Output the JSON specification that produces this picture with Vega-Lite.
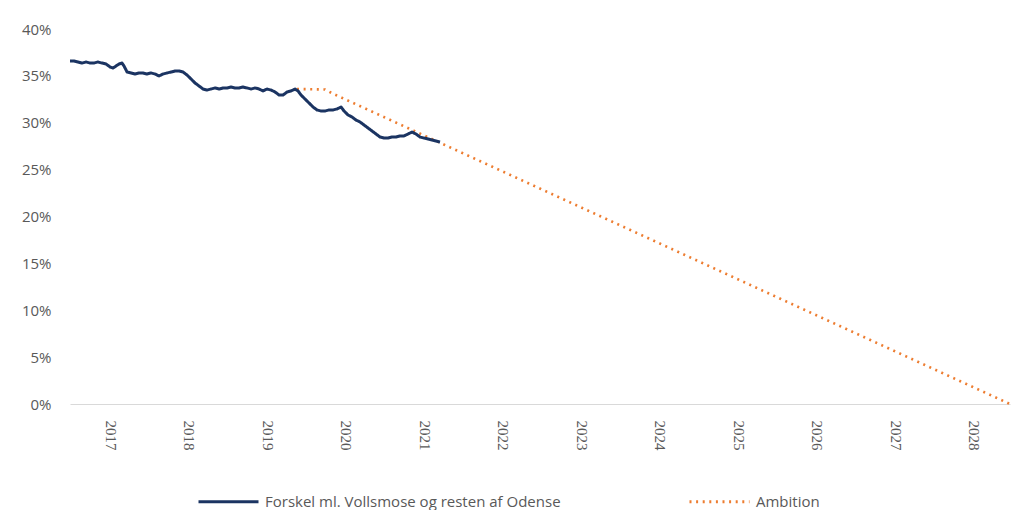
{
  "$schema": "https://vega.github.io/schema/vega-lite/v6.json",
  "width": 940,
  "height": 375,
  "autosize": {"type": "none"},
  "padding": {"left": 70, "top": 29, "right": 2, "bottom": 106},
  "background": "white",
  "config": {"view": {"stroke": null}, "font": "Open Sans"},
  "datasets": {
    "blue": [
      {"aar": 2016.490, "andel": 0.3659}, {"aar": 2016.541, "andel": 0.3659}, {"aar": 2016.592, "andel": 0.3648},
      {"aar": 2016.643, "andel": 0.3637}, {"aar": 2016.694, "andel": 0.3648}, {"aar": 2016.745, "andel": 0.3637},
      {"aar": 2016.796, "andel": 0.3637}, {"aar": 2016.847, "andel": 0.3648}, {"aar": 2016.898, "andel": 0.3637},
      {"aar": 2016.949, "andel": 0.3627}, {"aar": 2017.000, "andel": 0.3595}, {"aar": 2017.038, "andel": 0.3584},
      {"aar": 2017.076, "andel": 0.3605}, {"aar": 2017.115, "andel": 0.3627}, {"aar": 2017.153, "andel": 0.3637},
      {"aar": 2017.178, "andel": 0.3605}, {"aar": 2017.217, "andel": 0.3541}, {"aar": 2017.268, "andel": 0.3531},
      {"aar": 2017.318, "andel": 0.3520}, {"aar": 2017.369, "andel": 0.3531}, {"aar": 2017.420, "andel": 0.3531},
      {"aar": 2017.471, "andel": 0.3520}, {"aar": 2017.522, "andel": 0.3531}, {"aar": 2017.573, "andel": 0.3520},
      {"aar": 2017.624, "andel": 0.3499}, {"aar": 2017.675, "andel": 0.3520}, {"aar": 2017.726, "andel": 0.3531},
      {"aar": 2017.777, "andel": 0.3541}, {"aar": 2017.828, "andel": 0.3552}, {"aar": 2017.879, "andel": 0.3552},
      {"aar": 2017.930, "andel": 0.3541}, {"aar": 2017.981, "andel": 0.3509}, {"aar": 2018.032, "andel": 0.3467},
      {"aar": 2018.083, "andel": 0.3424}, {"aar": 2018.134, "andel": 0.3392}, {"aar": 2018.185, "andel": 0.3360},
      {"aar": 2018.236, "andel": 0.3349}, {"aar": 2018.287, "andel": 0.3360}, {"aar": 2018.338, "andel": 0.3371},
      {"aar": 2018.389, "andel": 0.3360}, {"aar": 2018.439, "andel": 0.3371}, {"aar": 2018.490, "andel": 0.3371},
      {"aar": 2018.541, "andel": 0.3381}, {"aar": 2018.592, "andel": 0.3371}, {"aar": 2018.643, "andel": 0.3371},
      {"aar": 2018.694, "andel": 0.3381}, {"aar": 2018.745, "andel": 0.3371}, {"aar": 2018.796, "andel": 0.3360},
      {"aar": 2018.847, "andel": 0.3371}, {"aar": 2018.898, "andel": 0.3360}, {"aar": 2018.949, "andel": 0.3339},
      {"aar": 2019.000, "andel": 0.3360}, {"aar": 2019.051, "andel": 0.3349}, {"aar": 2019.102, "andel": 0.3328},
      {"aar": 2019.153, "andel": 0.3296}, {"aar": 2019.204, "andel": 0.3296}, {"aar": 2019.255, "andel": 0.3328},
      {"aar": 2019.306, "andel": 0.3339}, {"aar": 2019.357, "andel": 0.3360}, {"aar": 2019.395, "andel": 0.3339},
      {"aar": 2019.433, "andel": 0.3296}, {"aar": 2019.484, "andel": 0.3253}, {"aar": 2019.535, "andel": 0.3211},
      {"aar": 2019.586, "andel": 0.3168}, {"aar": 2019.637, "andel": 0.3136}, {"aar": 2019.688, "andel": 0.3125},
      {"aar": 2019.739, "andel": 0.3125}, {"aar": 2019.790, "andel": 0.3136}, {"aar": 2019.841, "andel": 0.3136},
      {"aar": 2019.892, "andel": 0.3147}, {"aar": 2019.943, "andel": 0.3168}, {"aar": 2019.981, "andel": 0.3125},
      {"aar": 2020.032, "andel": 0.3083}, {"aar": 2020.083, "andel": 0.3061}, {"aar": 2020.134, "andel": 0.3029},
      {"aar": 2020.185, "andel": 0.3008}, {"aar": 2020.236, "andel": 0.2976}, {"aar": 2020.287, "andel": 0.2944},
      {"aar": 2020.338, "andel": 0.2912}, {"aar": 2020.389, "andel": 0.2880}, {"aar": 2020.439, "andel": 0.2848},
      {"aar": 2020.490, "andel": 0.2837}, {"aar": 2020.541, "andel": 0.2837}, {"aar": 2020.592, "andel": 0.2848},
      {"aar": 2020.643, "andel": 0.2848}, {"aar": 2020.694, "andel": 0.2859}, {"aar": 2020.745, "andel": 0.2859},
      {"aar": 2020.796, "andel": 0.2880}, {"aar": 2020.847, "andel": 0.2901}, {"aar": 2020.898, "andel": 0.2880},
      {"aar": 2020.949, "andel": 0.2848}, {"aar": 2021.000, "andel": 0.2837}, {"aar": 2021.051, "andel": 0.2827},
      {"aar": 2021.102, "andel": 0.2816}, {"aar": 2021.153, "andel": 0.2805}, {"aar": 2021.204, "andel": 0.2795}
    ],
    "orange": [
      {"aar": 2019.382, "andel": 0.3360}, {"aar": 2019.739, "andel": 0.3355}, {"aar": 2019.840, "andel": 0.3310},
      {"aar": 2028.465, "andel": 0.0}
    ]
  },
  "layer": [
    {
      "data": {"name": "orange"},
      "transform": [{"calculate": "'Ambition'", "as": "serie"}],
      "mark": {"type": "line", "strokeWidth": 2.6, "strokeCap": "butt", "clip": false},
      "encoding": {
        "x": {"field": "aar", "type": "quantitative"},
        "y": {"field": "andel", "type": "quantitative"},
        "color": {"field": "serie", "type": "nominal"},
        "strokeDash": {"field": "serie", "type": "nominal"}
      }
    },
    {
      "data": {"name": "blue"},
      "transform": [{"calculate": "'Forskel ml. Vollsmose og resten af Odense'", "as": "serie"}],
      "mark": {"type": "line", "strokeWidth": 3, "strokeJoin": "round", "clip": false},
      "encoding": {
        "x": {"field": "aar", "type": "quantitative"},
        "y": {"field": "andel", "type": "quantitative"},
        "color": {"field": "serie", "type": "nominal"},
        "strokeDash": {"field": "serie", "type": "nominal"}
      }
    }
  ],
  "resolve": {"scale": {"color": "shared", "strokeDash": "shared"}},
  "encoding": {
    "x": {
      "field": "aar", "type": "quantitative",
      "scale": {"domain": [2016.49, 2028.465], "nice": false, "zero": false},
      "axis": {
        "title": null, "values": [2017, 2018, 2019, 2020, 2021, 2022, 2023, 2024, 2025, 2026, 2027, 2028],
        "format": "d", "labelAngle": 90, "labelFont": "Liberation Serif", "labelFontSize": 15,
        "labelColor": "#595959", "ticks": false, "tickSize": 0, "labelPadding": 16,
        "domainColor": "#D9D9D9", "domainWidth": 1.2, "grid": false
      }
    },
    "y": {
      "field": "andel", "type": "quantitative",
      "scale": {"domain": [0, 0.4], "nice": false},
      "axis": {
        "title": null, "values": [0, 0.05, 0.1, 0.15, 0.2, 0.25, 0.3, 0.35, 0.4], "format": ".0%",
        "domain": false, "ticks": false, "tickSize": 0, "grid": false, "labelPadding": 19,
        "labelFont": "Open Sans", "labelFontSize": 15, "labelColor": "#595959"
      }
    },
    "color": {
      "field": "serie", "type": "nominal",
      "scale": {"domain": ["Forskel ml. Vollsmose og resten af Odense", "Ambition"], "range": ["#1B3462", "#ED7D31"]},
      "legend": {
        "title": null, "orient": "none", "legendX": 127, "legendY": 441, "direction": "horizontal",
        "symbolType": "stroke", "symbolSize": 3600, "symbolStrokeWidth": 3, "labelFont": "Open Sans",
        "labelFontSize": 15, "labelColor": "#595959", "labelLimit": 600, "columnPadding": 122,
        "labelOffset": 5, "padding": 0
      }
    },
    "strokeDash": {
      "field": "serie", "type": "nominal",
      "scale": {"domain": ["Forskel ml. Vollsmose og resten af Odense", "Ambition"], "range": [[1, 0], [2, 4.6]]},
      "legend": {
        "title": null, "orient": "none", "legendX": 127, "legendY": 441, "direction": "horizontal",
        "symbolType": "stroke", "symbolSize": 3600, "symbolStrokeWidth": 3, "labelFont": "Open Sans",
        "labelFontSize": 15, "labelColor": "#595959", "labelLimit": 600, "columnPadding": 122,
        "labelOffset": 5, "padding": 0
      }
    }
  }
}
